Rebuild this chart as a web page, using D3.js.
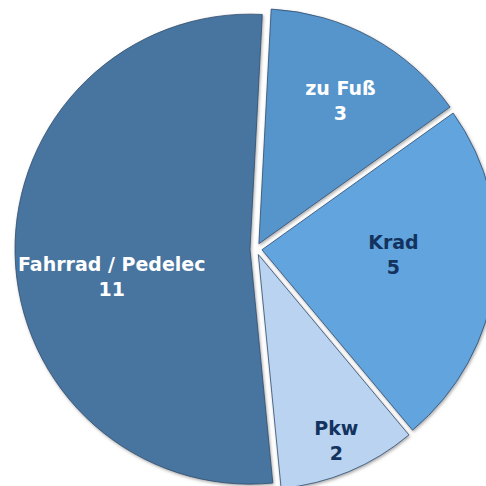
<!DOCTYPE html>
<html>
<head>
<meta charset="utf-8">
<script src="https://cdn.jsdelivr.net/npm/d3@7"></script>
<style>
  html, body { margin: 0; padding: 0; background: #fff; }
  svg { display: block; }
</style>
</head>
<body>
<div id="chart"></div>
<script>
// data
var categories = ["zu Fuß", "Krad", "Pkw", "Fahrrad / Pedelec"];
var values = [3, 5, 2, 11];
var fills = ["#5795cc", "#62a4de", "#b9d3f0", "#46759f"];
var labelColors = ["#ffffff", "#13335f", "#13335f", "#ffffff"];

var w = 486, h = 486;
var cx = 256, cy = 249, r = 235, explode = 6;
var startDeg = 3;

// label placement: fraction of radius + angle nudge (deg)
var labelPlace = [
  { f: 0.70, a: 1 },
  { f: 0.56, a: -5 },
  { f: 0.86, a: 0 },
  { f: 0.60, a: -10 }
];

var data = categories.map(function (c, i) {
  return { label: c, value: values[i], fill: fills[i], color: labelColors[i] };
});

var svg = d3.select("#chart").append("svg")
  .attr("width", w).attr("height", h);

var defs = svg.append("defs");
var f = defs.append("filter").attr("id", "shadow")
  .attr("x", "-10%").attr("y", "-10%").attr("width", "120%").attr("height", "120%");
f.append("feDropShadow").attr("dx", 1).attr("dy", 1.5)
  .attr("stdDeviation", 1.6).attr("flood-color", "#6f6f6f").attr("flood-opacity", 0.6);

var a0 = startDeg * Math.PI / 180;
var pie = d3.pie().sort(null).value(function (d) { return d.value; })
  .startAngle(a0).endAngle(a0 + 2 * Math.PI);
var arcs = pie(data);

var arc = d3.arc().innerRadius(0).outerRadius(r);

var g = svg.append("g").attr("transform", "translate(" + cx + "," + cy + ")");

function offset(d) {
  var m = (d.startAngle + d.endAngle) / 2;
  return [explode * Math.sin(m), -explode * Math.cos(m)];
}

var slices = g.selectAll("g.slice").data(arcs).enter().append("g")
  .attr("class", "slice")
  .attr("transform", function (d) {
    var o = offset(d);
    return "translate(" + o[0] + "," + o[1] + ")";
  });

slices.append("path")
  .attr("d", arc)
  .attr("fill", function (d) { return d.data.fill; })
  .attr("stroke", "#2e4d6e")
  .attr("stroke-width", 0.8)
  .attr("stroke-linejoin", "round")
  .attr("filter", "url(#shadow)");

var labels = slices.append("text")
  .attr("text-anchor", "middle")
  .attr("font-family", "'DejaVu Sans', sans-serif")
  .attr("font-weight", "bold")
  .attr("font-size", 19)
  .attr("fill", function (d) { return d.data.color; })
  .attr("transform", function (d, i) {
    var p = labelPlace[i];
    var m = (d.startAngle + d.endAngle) / 2 + p.a * Math.PI / 180;
    var rr = r * p.f;
    return "translate(" + (rr * Math.sin(m)) + "," + (-rr * Math.cos(m)) + ")";
  });

labels.append("tspan").attr("x", 0).attr("y", -6).text(function (d) { return d.data.label; });
labels.append("tspan").attr("x", 0).attr("y", 19).text(function (d) { return d.data.value; });
</script>
</body>
</html>
